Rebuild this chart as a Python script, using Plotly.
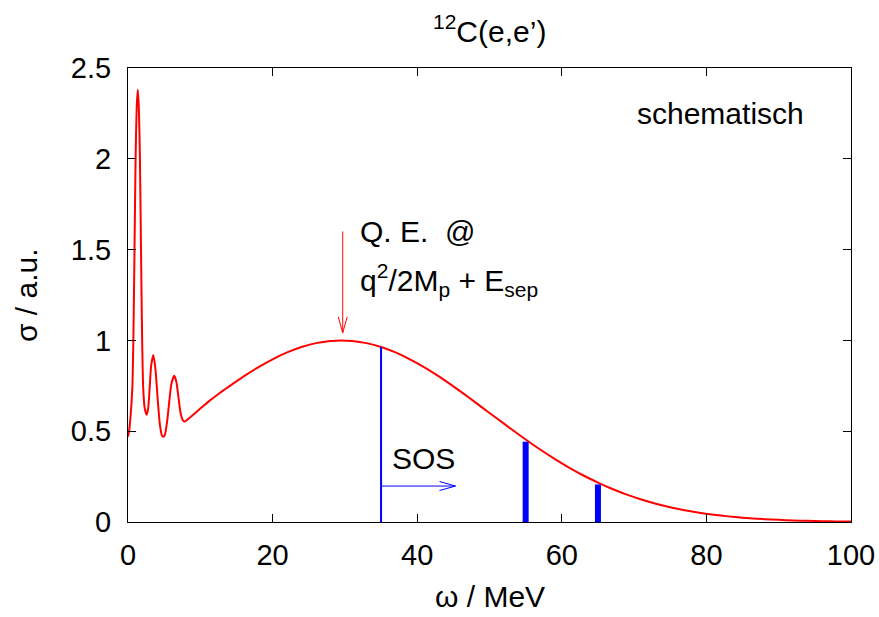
import plotly.graph_objects as go

# ---------------- data ----------------
omega = [0.0, 0.15, 0.35, 0.6, 0.75, 0.9, 1.05, 1.2, 1.35, 1.5, 1.65, 1.8, 1.95, 2.1, 2.3, 2.58,
         2.8, 3.0, 3.2, 3.5, 3.8, 4.1, 4.4, 4.7, 4.9, 5.1, 5.4, 5.7, 6.0, 6.4, 6.7, 7.0, 7.3, 7.6, 7.85,
         8.5, 9.5, 10.5, 11.25, 12, 13, 14, 16, 18, 20, 22, 24, 26, 28, 29.5, 31, 33, 35, 37, 39, 41, 43, 45,
         47, 49, 51, 53, 55, 57, 59, 61, 63, 65, 67, 69, 71, 73, 75, 77, 79, 81, 83, 85, 87, 89,
         91, 93, 95, 97, 99, 100]
sigma = [0.47, 0.50, 0.58, 0.74, 1.02, 1.50, 2.00, 2.28, 2.38, 2.28, 2.00, 1.50, 1.02, 0.74, 0.63, 0.59,
         0.63, 0.74, 0.86, 0.92, 0.84, 0.68, 0.54, 0.475, 0.47, 0.48, 0.55, 0.66, 0.76, 0.805, 0.77, 0.68, 0.595, 0.56, 0.553,
         0.573, 0.607, 0.642, 0.667, 0.69, 0.719, 0.747, 0.802, 0.852, 0.896, 0.934, 0.964, 0.985, 0.997, 1.0, 0.997, 0.985, 0.964, 0.934, 0.896, 0.852, 0.802, 0.747,
         0.69, 0.63, 0.571, 0.512, 0.454, 0.399, 0.348, 0.300, 0.256, 0.217, 0.1815, 0.1505, 0.1237, 0.1006, 0.0811, 0.0647, 0.0511, 0.040, 0.031, 0.0238, 0.0181, 0.0136,
         0.0101, 0.0075, 0.0055, 0.004, 0.0028, 0.0024]

sos_x = [35]
sos_top = [0.964]
bar_x = [55, 65]
bar_top = [0.442, 0.207]

x_ticks = [0, 20, 40, 60, 80, 100]
y_ticks = [0, 0.5, 1, 1.5, 2, 2.5]
y_ticktext = ["0", "0.5", "1", "1.5", "2", "2.5"]

# arrows (data coordinates)
qe_arrow = dict(x=29.7, y_from=1.60, y_to=1.042)
sos_arrow = dict(y=0.198, x_from=35, x_to=45.3)

# ---------------- layout geometry ----------------
W, H = 879, 617
ML, MR, MT, MB = 128, 28, 68, 95
XR = (0, 100)
YR = (0, 2.5)
pxx = (W - ML - MR) / (XR[1] - XR[0])
pxy = (H - MT - MB) / (YR[1] - YR[0])

FONT = "Liberation Sans, Arial, Helvetica, sans-serif"
FS_TICK = 29
FS_TEXT = 30

fig = go.Figure()

fig.add_trace(go.Scatter(x=omega, y=sigma, mode="lines",
                         line=dict(color="#ff0000", width=2, shape="spline", smoothing=0.6),
                         showlegend=False, hoverinfo="skip"))

for xv, top in zip(sos_x, sos_top):
    fig.add_trace(go.Scatter(x=[xv, xv], y=[0, top], mode="lines",
                             line=dict(color="#0000ff", width=2), showlegend=False))
for xv, top in zip(bar_x, bar_top):
    fig.add_trace(go.Scatter(x=[xv, xv], y=[0, top], mode="lines",
                             line=dict(color="#0000ff", width=6), showlegend=False))

# Q.E. arrow (vertical, pointing down)
hl, hw = 16, 4.5
ax = qe_arrow["x"]
fig.add_trace(go.Scatter(x=[ax, ax], y=[qe_arrow["y_from"], qe_arrow["y_to"]], mode="lines",
                         line=dict(color="#ff0000", width=1), showlegend=False))
fig.add_trace(go.Scatter(x=[ax - hw / pxx, ax, ax + hw / pxx],
                         y=[qe_arrow["y_to"] + hl / pxy, qe_arrow["y_to"], qe_arrow["y_to"] + hl / pxy],
                         mode="lines", line=dict(color="#ff0000", width=1), showlegend=False))

# SOS arrow (horizontal, pointing right)
ay = sos_arrow["y"]
fig.add_trace(go.Scatter(x=[sos_arrow["x_from"], sos_arrow["x_to"]], y=[ay, ay], mode="lines",
                         line=dict(color="#0000ff", width=1), showlegend=False))
fig.add_trace(go.Scatter(x=[sos_arrow["x_to"] - hl / pxx, sos_arrow["x_to"], sos_arrow["x_to"] - hl / pxx],
                         y=[ay + hw / pxy, ay, ay - hw / pxy],
                         mode="lines", line=dict(color="#0000ff", width=1), showlegend=False))

ann = [
    dict(text="<sup>12</sup>C(e,e’)", x=0.5, xref="paper", y=1.085, yref="paper", yanchor="middle",
         showarrow=False),
    dict(text="schematisch", x=70.1, y=2.25, xanchor="left", yanchor="middle", showarrow=False),
    dict(text="Q. E.  @", x=31.8, y=1.60, xanchor="left", yanchor="middle", showarrow=False),
    dict(text="q<sup>2</sup>/2M<sub>p</sub> + E<sub>sep</sub>", x=31.8, y=1.33,
         xanchor="left", yanchor="middle", showarrow=False),
    dict(text="SOS", x=36.2, y=0.352, xanchor="left", yanchor="middle", showarrow=False),
    dict(text="ω / MeV", x=0.5, xref="paper", y=-0.165, yref="paper", yanchor="middle",
         showarrow=False),
    dict(text="σ / a.u.", x=-0.141, xref="paper", y=0.5, yref="paper", textangle=-90,
         xanchor="center", yanchor="middle", showarrow=False),
]
for a in ann:
    a.setdefault("xref", "x")
    a.setdefault("yref", "y")
    a["font"] = dict(family=FONT, size=FS_TEXT, color="black")

fig.update_layout(
    width=W, height=H,
    margin=dict(l=ML, r=MR, t=MT, b=MB, pad=0, autoexpand=False),
    paper_bgcolor="white", plot_bgcolor="white",
    font=dict(family=FONT, size=FS_TEXT, color="black"),
    annotations=ann,
    showlegend=False,
)
fig.update_xaxes(range=list(XR), tickvals=x_ticks, ticks="inside", ticklen=8, tickwidth=1,
                 tickcolor="black", showline=True, linecolor="black", linewidth=1, mirror="ticks",
                 showgrid=False, zeroline=False, ticklabelstandoff=7, automargin=False,
                 tickfont=dict(family=FONT, size=FS_TICK, color="black"))
fig.update_yaxes(range=list(YR), tickvals=y_ticks, ticktext=y_ticktext, ticks="inside", ticklen=8,
                 tickwidth=1, tickcolor="black", showline=True, linecolor="black", linewidth=1,
                 mirror="ticks", showgrid=False, zeroline=False, ticklabelstandoff=10, automargin=False,
                 tickfont=dict(family=FONT, size=FS_TICK, color="black"))

fig.write_html("out.html")
